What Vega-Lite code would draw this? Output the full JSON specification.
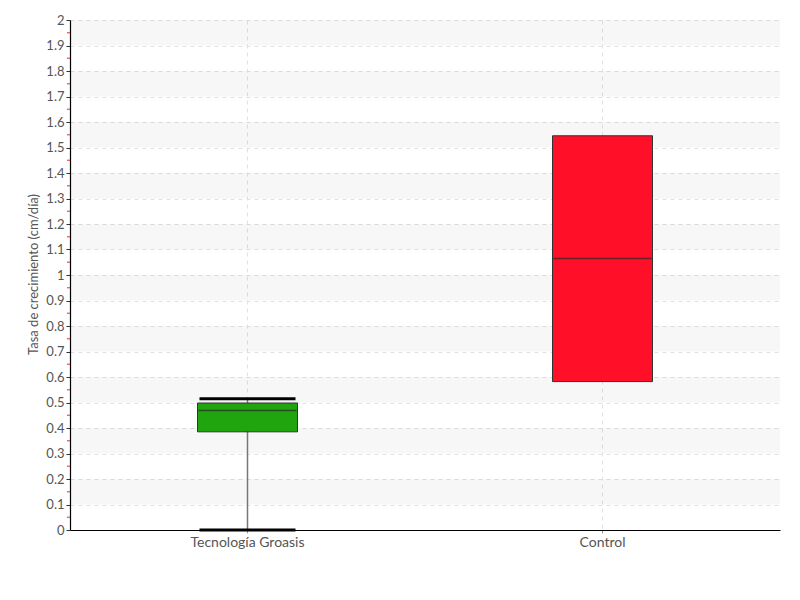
{
  "$schema": "https://vega.github.io/schema/vega-lite/v6.json",
  "width": 710,
  "height": 510,
  "autosize": "none",
  "padding": {"left": 70, "top": 20, "right": 20, "bottom": 70},
  "background": "white",
  "config": {
    "view": {"stroke": null},
    "font": "Lato"
  },
  "datasets": {
    "boxes": [
      {"grupo": "Tecnología Groasis", "min": 0, "q1": 0.385, "median": 0.469, "q3": 0.498, "max": 0.515},
      {"grupo": "Control", "min": 0.582, "q1": 0.582, "median": 1.065, "q3": 1.546, "max": 1.546}
    ],
    "bands": [
      {"lo": 0.1, "hi": 0.2}, {"lo": 0.3, "hi": 0.4}, {"lo": 0.5, "hi": 0.6},
      {"lo": 0.7, "hi": 0.8}, {"lo": 0.9, "hi": 1.0}, {"lo": 1.1, "hi": 1.2},
      {"lo": 1.3, "hi": 1.4}, {"lo": 1.5, "hi": 1.6}, {"lo": 1.7, "hi": 1.8},
      {"lo": 1.9, "hi": 2.0}
    ],
    "minor": [
      {"v": 0.05}, {"v": 0.15}, {"v": 0.25}, {"v": 0.35}, {"v": 0.45},
      {"v": 0.55}, {"v": 0.65}, {"v": 0.75}, {"v": 0.85}, {"v": 0.95},
      {"v": 1.05}, {"v": 1.15}, {"v": 1.25}, {"v": 1.35}, {"v": 1.45},
      {"v": 1.55}, {"v": 1.65}, {"v": 1.75}, {"v": 1.85}, {"v": 1.95}
    ]
  },
  "encoding": {
    "y": {
      "type": "quantitative",
      "scale": {"domain": [0, 2], "nice": false, "zero": false},
      "axis": {
        "title": "Tasa de crecimiento (cm/día)",
        "values": [0, 0.1, 0.2, 0.3, 0.4, 0.5, 0.6, 0.7, 0.8, 0.9, 1, 1.1, 1.2, 1.3, 1.4, 1.5, 1.6, 1.7, 1.8, 1.9, 2],
        "format": "~g",
        "labelFontSize": 13, "labelColor": "#555555", "labelPadding": 2,
        "domainColor": "#000000", "domainWidth": 1.2,
        "tickColor": "#333333", "tickSize": 4,
        "grid": true, "gridDash": [4, 4], "gridColor": "#e2e2e2",
        "titleFontSize": 13, "titleFontWeight": "normal", "titleColor": "#555555",
        "titleX": -37, "titleY": 254, "titleAlign": "center", "titleBaseline": "middle", "titleAngle": -90
      }
    }
  },
  "layer": [
    {
      "data": {"name": "bands"},
      "mark": {"type": "rect", "color": "#000000", "opacity": 0.03},
      "encoding": {
        "y": {"field": "lo", "type": "quantitative"},
        "y2": {"field": "hi"}
      }
    },
    {
      "data": {"name": "boxes"},
      "mark": {"type": "rule", "color": "#777777", "strokeWidth": 1.5},
      "encoding": {
        "x": {
          "field": "grupo", "type": "nominal", "sort": ["Tecnología Groasis", "Control"],
          "scale": {"paddingInner": 0, "paddingOuter": 0},
          "axis": {
            "title": null, "labelAngle": 0, "labelFontSize": 14, "labelColor": "#555555",
            "labelPadding": 2, "domainColor": "#000000", "domainWidth": 1.2,
            "tickColor": "#999999", "tickSize": 3,
            "grid": true, "gridDash": [4, 4], "gridColor": "#e2e2e2"
          }
        },
        "y": {"field": "min", "type": "quantitative"},
        "y2": {"field": "max"}
      }
    },
    {
      "data": {"name": "boxes"},
      "mark": {"type": "bar", "size": 100, "stroke": "#333333", "strokeWidth": 1},
      "encoding": {
        "x": {"field": "grupo", "type": "nominal", "sort": ["Tecnología Groasis", "Control"]},
        "y": {"field": "q1", "type": "quantitative"},
        "y2": {"field": "q3"},
        "color": {
          "field": "grupo", "type": "nominal",
          "scale": {"domain": ["Tecnología Groasis", "Control"], "range": ["#21a50f", "#ff0f28"]},
          "legend": null
        }
      }
    },
    {
      "data": {"name": "boxes"},
      "mark": {"type": "tick", "orient": "horizontal", "size": 98, "thickness": 1.5, "color": "#2a2a2a"},
      "encoding": {
        "x": {"field": "grupo", "type": "nominal", "sort": ["Tecnología Groasis", "Control"]},
        "y": {"field": "median", "type": "quantitative"}
      }
    },
    {
      "data": {"values": [{"grupo": "Tecnología Groasis", "v": 0}, {"grupo": "Tecnología Groasis", "v": 0.515}]},
      "mark": {"type": "tick", "orient": "horizontal", "size": 96, "thickness": 3, "color": "#000000", "opacity": 1},
      "encoding": {
        "x": {"field": "grupo", "type": "nominal", "sort": ["Tecnología Groasis", "Control"]},
        "y": {"field": "v", "type": "quantitative"}
      }
    },
    {
      "data": {"name": "minor"},
      "mark": {"type": "rule", "color": "#ff4444", "strokeWidth": 1.2},
      "encoding": {
        "y": {"field": "v", "type": "quantitative"},
        "x": {"value": -3},
        "x2": {"value": 0}
      }
    }
  ]
}
